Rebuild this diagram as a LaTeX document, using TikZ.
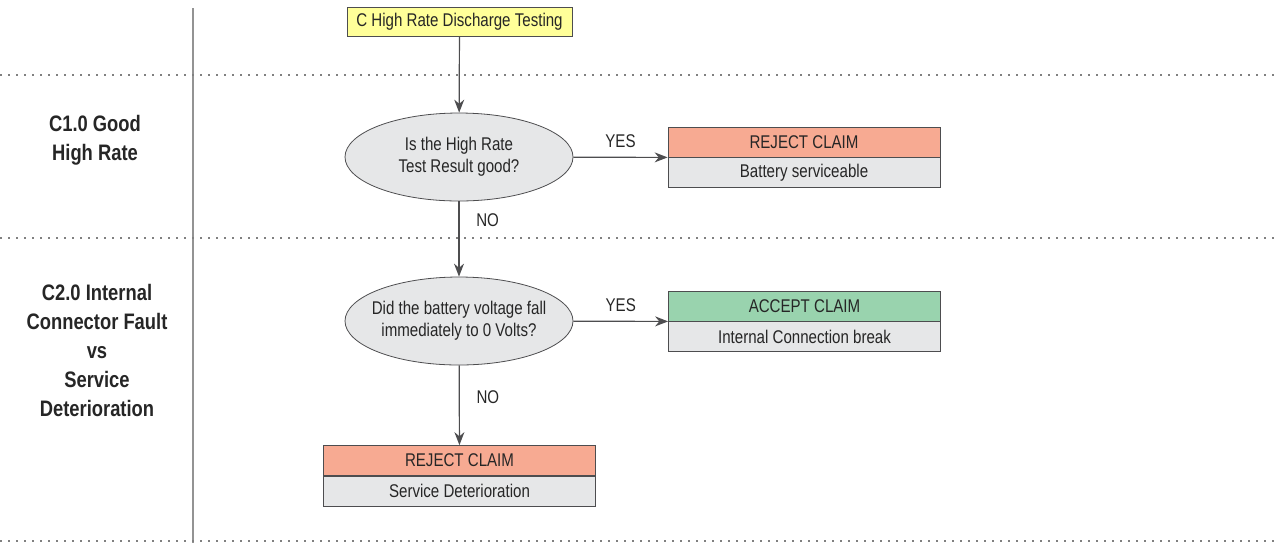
\documentclass[tikz,border=0pt]{standalone}
\usepackage{fontspec}
\setmainfont{Liberation Sans}[FakeStretch=0.82]
\usetikzlibrary{arrows.meta,positioning,shapes.geometric}
\definecolor{startyellow}{HTML}{FFFF99}
\definecolor{rejectred}{HTML}{F7AA92}
\definecolor{acceptgreen}{HTML}{99D3AE}
\definecolor{bodygray}{HTML}{E6E7E8}
\definecolor{linegray}{HTML}{4D4D4F}

\begin{document}
\begin{tikzpicture}[
  x=0.5pt, y=-0.5pt,
  font=\fontsize{9.2}{11}\selectfont, text=black!85,
  start/.style={draw=linegray, fill=startyellow, inner sep=0pt,
                minimum width=112.5pt, minimum height=14.5pt},
  head/.style={draw=linegray, inner sep=0pt, minimum width=136pt, minimum height=15pt},
  body/.style={head, fill=bodygray, below=0pt of #1},
  decision/.style={ellipse, draw=linegray, fill=bodygray, align=center,
                   inner xsep=-4pt, inner ysep=0pt,
                   minimum width=114pt, minimum height=44pt},
  arr/.style={-{Stealth[length=6.5pt,width=5pt]}, linegray, line width=0.6pt},
  lab/.style={text=black!85},
  lane/.style={font=\bfseries\fontsize{11.2}{14.5}\selectfont, align=center},
  sep/.style={gray, line width=0.8pt, dash pattern=on 0.8pt off 3.2pt}
]
\useasboundingbox (0,0) rectangle (1278,543);

% lanes
\draw[gray!85, line width=1.2pt] (193,8) -- (193,543);
\draw[sep] (0,75) -- (1278,75);
\draw[sep] (0,238) -- (1278,238);
\draw[sep] (0,541) -- (1278,541);
\node[lane] (lane1) at (95,140) {C1.0 Good\\High Rate};
\node[lane] (lane2) at (97,350) {C2.0 Internal\\Connector Fault\\vs\\Service\\Deterioration};

% flow
\node[start] (C) at (459.5,21.5) {C High Rate Discharge Testing};
\node[decision] (Q1) at (459,157) {Is the High Rate\\Test Result good?};
\node[head, fill=rejectred] (R1) at (804,142) {REJECT CLAIM};
\node[body=R1] (R1b) {Battery serviceable};
\node[decision] (Q2) at (459,321) {Did the battery voltage fall\\immediately to 0 Volts?};
\node[head, fill=acceptgreen] (A2) at (804.5,306) {ACCEPT CLAIM};
\node[body=A2] (A2b) {Internal Connection break};
\node[head, fill=rejectred] (R3) at (459.5,460.5) {REJECT CLAIM};
\node[body=R3] (R3b) {Service Deterioration};

\draw[arr] (C) -- (Q1);
\draw[arr] (Q1) -- node[lab, above=1pt] {YES} (R1.south west);
\draw[arr] (Q1) -- node[lab, pos=0.25, right=5pt] {NO} (Q2);
\draw[arr] (Q2) -- node[lab, above=1pt] {YES} (A2.south west);
\draw[arr] (Q2) -- node[lab, pos=0.4, right=5pt] {NO} (R3);
\end{tikzpicture}
\end{document}
